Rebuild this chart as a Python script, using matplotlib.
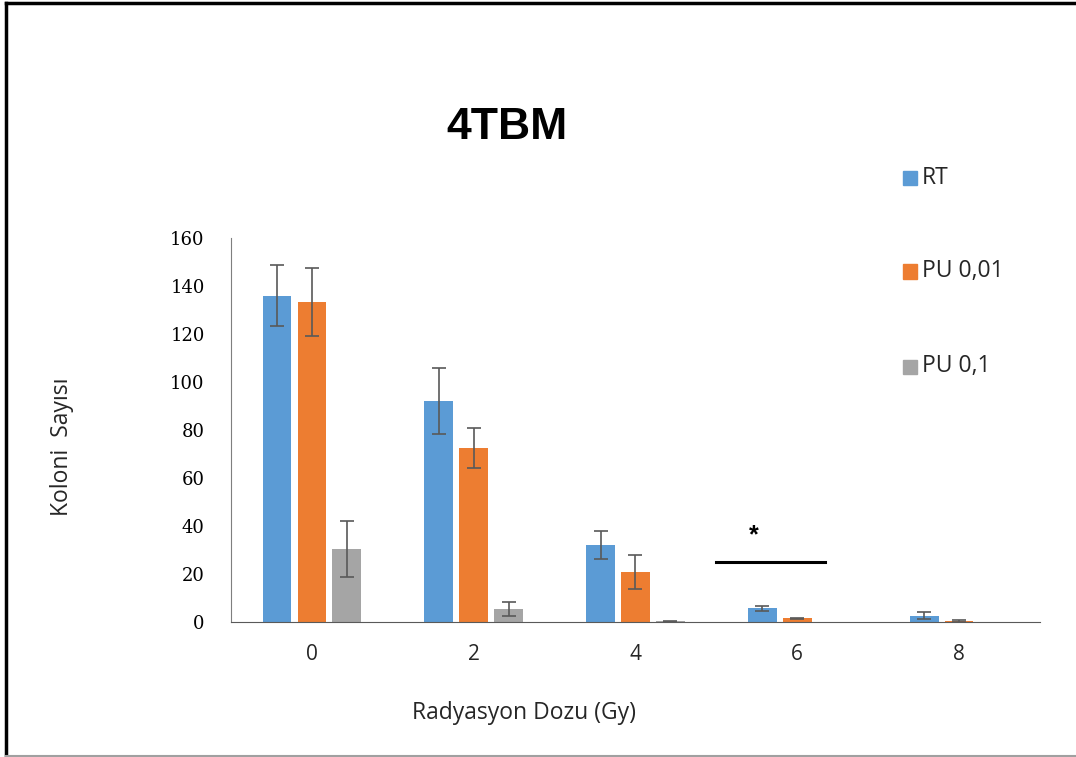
import numpy as np
import matplotlib
matplotlib.use("Agg")
import matplotlib.pyplot as plt
from matplotlib.lines import Line2D
from matplotlib.patches import Rectangle

doses = ["0", "2", "4", "6", "8"]
series_names = ["RT", "PU 0,01", "PU 0,1"]
rt_values = [136, 92, 32, 5.7, 2.6]
rt_errors = [12.8, 13.7, 5.8, 1.0, 1.4]
pu001_values = [133.3, 72.5, 20.8, 1.5, 0.5]
pu001_errors = [14.0, 8.3, 7.2, 0.2, 0.4]
pu01_values = [30.4, 5.4, 0.4, 0.0, 0.0]
pu01_errors = [11.7, 3.0, 0.2, 0.0, 0.0]
colors = ["#5b9bd5", "#ed7d31", "#a5a5a5"]

sig_line_x = (2.5, 3.17)
sig_line_y = 25
sig_star = (2.73, 36)

fig = plt.figure(figsize=(10.76, 7.57), dpi=100)
ax = fig.add_axes([0.2147, 0.1783, 0.7518, 0.5073])

x = np.arange(len(doses))
width = 0.178
offset = 0.216
values = [rt_values, pu001_values, pu01_values]
errors = [rt_errors, pu001_errors, pu01_errors]
for i, (vals, errs) in enumerate(zip(values, errors)):
    pos = x + (i - 1) * offset
    ax.bar(pos, vals, width=width, color=colors[i], label=series_names[i], zorder=2)
    errs_plot = np.array(errs)
    mask = errs_plot > 0
    ax.errorbar(pos[mask], np.array(vals)[mask], yerr=errs_plot[mask], fmt="none",
                ecolor="#595959", elinewidth=1.2, capsize=5, capthick=1.2, zorder=3)

ax.set_xlim(-0.5, 4.5)
ax.set_ylim(0, 160)
ax.set_yticks(np.arange(0, 161, 20))
ax.set_xticks(x)
ax.set_xticklabels(doses)
ax.tick_params(axis="y", length=0, colors="black", pad=19)
ax.tick_params(axis="x", length=0, colors="#262626", pad=16)
for lbl in ax.get_yticklabels():
    lbl.set_fontfamily("DejaVu Serif")
    lbl.set_fontsize(13)
for lbl in ax.get_xticklabels():
    lbl.set_fontfamily("Open Sans")
    lbl.set_fontsize(15)
for side in ["top", "right"]:
    ax.spines[side].set_visible(False)
ax.spines["left"].set_color("#7f7f7f")
ax.spines["bottom"].set_color("#595959")

# significance marker
ax.plot(sig_line_x, [sig_line_y, sig_line_y], color="black", lw=2.2, clip_on=False)
ax.text(sig_star[0], sig_star[1], "*", ha="center", va="center", fontsize=18,
        fontweight="bold", family="Liberation Sans")

fig.text(0.471, 0.832, "4TBM", ha="center", va="center", fontsize=32,
         fontweight="bold", family="Liberation Sans")
fig.text(0.058, 0.41, "Koloni  Sayısı", rotation=90, ha="center", va="center",
         fontsize=16.5, family="Open Sans", color="#262626")
fig.text(0.487, 0.058, "Radyasyon Dozu (Gy)", ha="center", va="center",
         fontsize=16.5, family="Open Sans", color="#262626")

# legend drawn as separate entries
legend_y = [0.765, 0.642, 0.516]
for name, col, ly in zip(series_names, colors, legend_y):
    fig.patches.append(Rectangle((0.839, ly - 0.010), 0.0135, 0.019,
                                 transform=fig.transFigure, color=col, figure=fig))
    fig.text(0.857, ly, name, ha="left", va="center", fontsize=16.5,
             family="Open Sans", color="#262626")

# outer frame
fig.add_artist(Line2D([0.0055, 0.0055], [0.0, 0.996], color="black", lw=2.5,
                      transform=fig.transFigure))
fig.add_artist(Line2D([0.0055, 1.0], [0.996, 0.996], color="black", lw=2.5,
                      transform=fig.transFigure))
fig.add_artist(Line2D([0.0055, 1.0], [0.001, 0.001], color="#a0a0a0", lw=1.5,
                      transform=fig.transFigure))

fig.savefig("out.png", dpi=100)
